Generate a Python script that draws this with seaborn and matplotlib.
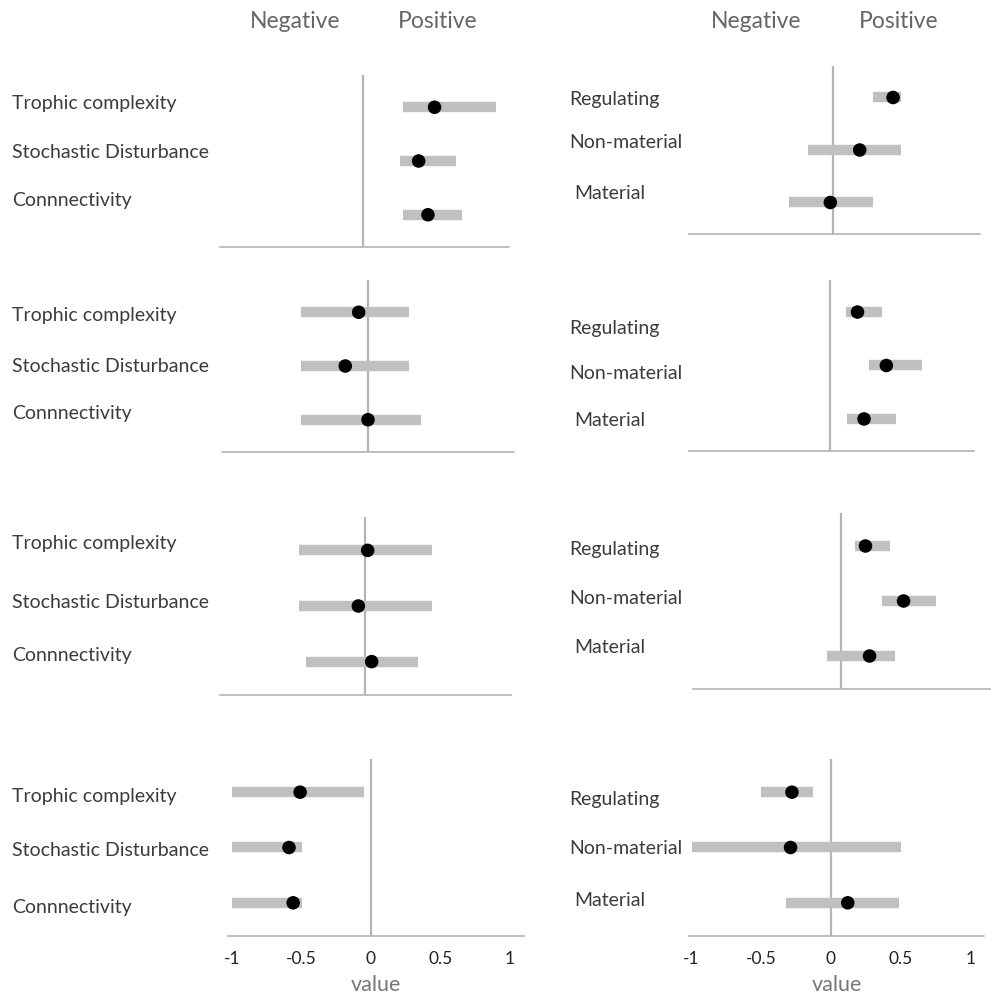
import numpy as np
import pandas as pd
import seaborn as sns
import matplotlib.pyplot as plt
from matplotlib.transforms import blended_transform_factory

# categories
drivers = ["Trophic complexity", "Stochastic Disturbance", "Connnectivity"]
services = ["Regulating", "Non-material", "Material"]

# left column (drivers), rows top to bottom
drv_est = [[0.54, 0.42, 0.49], [-0.07, -0.17, 0.00], [0.02, -0.05, 0.05], [-0.51, -0.59, -0.56]]
drv_lo = [[0.30, 0.28, 0.30], [-0.50, -0.50, -0.50], [-0.50, -0.50, -0.44], [-1.00, -1.00, -1.00]]
drv_hi = [[1.00, 0.70, 0.75], [0.31, 0.31, 0.40], [0.50, 0.50, 0.40], [-0.05, -0.50, -0.50]]

# right column (services)
srv_est = [[0.45, 0.20, -0.02], [0.21, 0.43, 0.26], [0.18, 0.46, 0.21], [-0.28, -0.29, 0.12]]
srv_lo = [[0.30, -0.19, -0.33], [0.12, 0.30, 0.13], [0.10, 0.30, -0.10], [-0.50, -1.00, -0.32]]
srv_hi = [[0.51, 0.51, 0.30], [0.40, 0.70, 0.50], [0.36, 0.70, 0.40], [-0.13, 0.50, 0.49]]

xticks = [-1, -0.5, 0, 0.5, 1]
xticklabels = ["-1", "-0.5", "0", "0.5", "1"]

sns.set_style("white")
plt.rcParams['font.family'] = ['Lato', 'DejaVu Sans']

W, H = 991, 997
fig = plt.figure(figsize=(W / 100, H / 100), dpi=100)

# panel layout in pixels: zero x, px per unit, top y, bottom y, xmin, xmax, label x, label offsets (px)
layout_left = [
    (363, 132.5, 75, 247, -1.08, 1.10, 12, (-4, -9, -14)),
    (368, 133.5, 280, 452, -1.09, 1.09, 12, (3, 0, -6)),
    (365, 133.0, 517, 695, -1.09, 1.10, 12, (-7, -3, -6)),
    (371, 139.0, 759, 936, -1.03, 1.10, 12, (4, 3, 5)),
]
layout_right = [
    (833, 133.5, 66, 234, -1.08, 1.10, 569, (2, -7, -9)),
    (830, 131.0, 280, 451, -1.08, 1.10, 569, (16, 8, 2)),
    (841, 136.0, 513, 689, -1.09, 1.10, 569, (3, -3, -9)),
    (831, 139.5, 759, 936, -1.02, 1.10, 569, (7, 1, -2)),
]
indent_left = (0, 0, 0)
indent_right = (0, 0, 5)

bar_col = "#c0c0c0"
line_col = "#b4b4b4"
text_col = "#3c3c3c"


def draw_panel(lay, labels, est, lo, hi, indent, bottom_row):
    zero, unit, top, bot, xmin, xmax, lab_x, offs = lay
    left_px = zero + xmin * unit
    right_px = zero + xmax * unit
    ax = fig.add_axes([left_px / W, 1 - bot / H, (right_px - left_px) / W, (bot - top) / H])
    df = pd.DataFrame({"label": labels, "est": est, "lo": lo, "hi": hi, "row": [0, 1, 2]})
    ax.axvline(0, color=line_col, lw=1.6, zorder=1)
    ax.hlines(df["row"], df["lo"], df["hi"], color=bar_col, lw=7.5, zorder=2)
    sns.scatterplot(data=df, x="est", y="row", color="black", s=95, edgecolor="none",
                    zorder=3, ax=ax, legend=False)
    ax.set_xlim(xmin, xmax)
    ax.set_ylim(2.6, -0.6)
    ax.set_yticks([])
    ax.set_ylabel("")
    ax.set_xlabel("")
    for s in ["top", "right", "left"]:
        ax.spines[s].set_visible(False)
    ax.spines["bottom"].set_color(line_col)
    ax.spines["bottom"].set_linewidth(1.2)
    ax.set_xticks(xticks)
    ax.tick_params(axis="x", direction="out", length=2.5, width=0.8, color="#666666",
                   labelsize=12.5, labelcolor="#222222", pad=8)
    if bottom_row:
        ax.set_xticklabels(xticklabels)
        ax.set_xlabel("value", fontsize=15.5, color="#777777", labelpad=6)
    else:
        ax.set_xticklabels([])
    tr = blended_transform_factory(fig.transFigure, ax.transData)
    spacing = (bot - top) / 3.2
    for i, name in enumerate(df["label"]):
        ax.text((lab_x + indent[i]) / W, i + offs[i] / spacing, name, transform=tr,
                ha="left", va="center", fontsize=14, color=text_col)
    return ax


for k in range(4):
    draw_panel(layout_left[k], drivers, drv_est[k], drv_lo[k], drv_hi[k], indent_left, k == 3)
    draw_panel(layout_right[k], services, srv_est[k], srv_lo[k], srv_hi[k], indent_right, k == 3)

# column headers
for xn, xp in [(295, 438), (756, 899)]:
    fig.text(xn / W, 1 - 21 / H, "Negative", ha="center", va="center", fontsize=16.5, color="#666666")
    fig.text(xp / W, 1 - 21 / H, "Positive", ha="center", va="center", fontsize=16.5, color="#666666")

fig.savefig("out.png", dpi=100)
